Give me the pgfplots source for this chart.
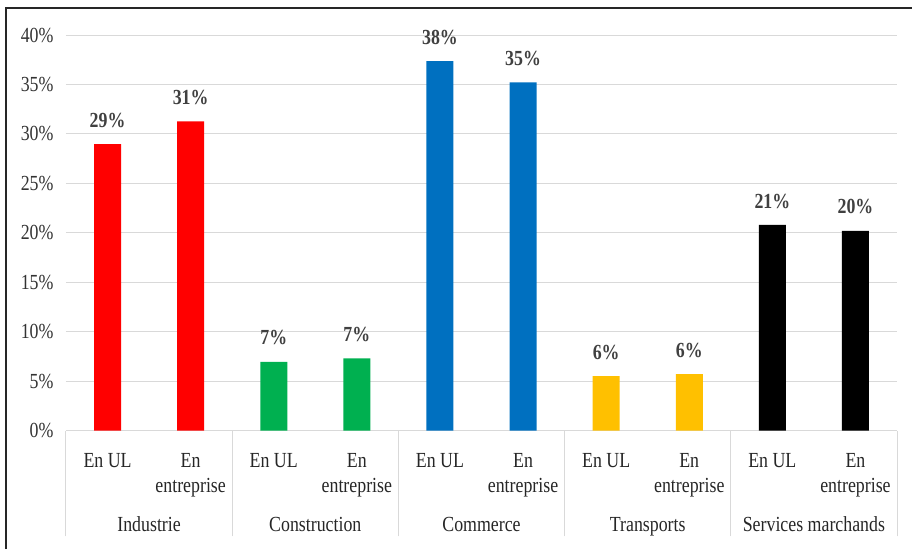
\documentclass[border=0pt]{standalone}
\usepackage{pgfplots}
\pgfplotsset{compat=1.18}
\usepackage{fontspec}
\setmainfont{Liberation Serif}[FakeStretch=0.83]
\definecolor{cred}{HTML}{FF0000}
\definecolor{cgreen}{HTML}{00B050}
\definecolor{cblue}{HTML}{0070C0}
\definecolor{cyellow}{HTML}{FFC000}
\definecolor{gridc}{HTML}{D9D9D9}
\definecolor{labc}{HTML}{404040}
\begin{document}
\begin{tikzpicture}
\path[use as bounding box] (-66pt,-118.5pt) rectangle (846pt,430.5pt);
\draw[line width=1.6pt, black!85] (-60pt,-118.5pt) -- (-60pt,422.5pt) -- (846pt,422.5pt);
\begin{axis}[
 at={(0,0)}, anchor=south west,
 scale only axis, width=831pt, height=395.5pt,
 xmin=-0.5, xmax=9.5, ymin=0, ymax=40,
 axis x line=bottom, axis y line=left,
 x axis line style={draw=gridc, line width=1pt, -},
 y axis line style={draw=none},
 ytick={0,5,...,40},
 yticklabel={\pgfmathprintnumber{\tick}\%},
 /pgf/number format/assume math mode=true,
 ymajorgrids, grid style={draw=gridc, line width=1pt},
 major tick length=0pt,
 xtick={0,...,9},
 xticklabels={En UL,{En\\entreprise},En UL,{En\\entreprise},En UL,{En\\entreprise},En UL,{En\\entreprise},En UL,{En\\entreprise}},
 xticklabel style={align=center, anchor=north, font=\fontsize{21.5}{25.5}\selectfont, text=black!85, yshift=-19pt},
 yticklabel style={font=\fontsize{21.5}{25}\selectfont, text=black!80, xshift=-9pt},
 extra x ticks={-0.5,1.5,3.5,5.5,7.5,9.5},
 extra x tick labels={},
 extra x tick style={major tick length=106pt, tick align=outside, tick style={draw=gridc, line width=1pt}},
 ybar, bar width=27pt,
 point meta=explicit symbolic,
 nodes near coords={\pgfplotspointmeta\%},
 nodes near coords style={font=\bfseries\fontsize{21.5}{25}\selectfont, text=labc, yshift=13pt},
 clip=false,
]
\addplot[fill=cred, draw=none, bar shift=0pt] coordinates {(0,28.97) [29] (1,31.26) [31]};
\addplot[fill=cgreen, draw=none, bar shift=0pt] coordinates {(2,6.95) [7] (3,7.3) [7]};
\addplot[fill=cblue, draw=none, bar shift=0pt] coordinates {(4,37.35) [38] (5,35.2) [35]};
\addplot[fill=cyellow, draw=none, bar shift=0pt] coordinates {(6,5.5) [6] (7,5.7) [6]};
\addplot[fill=black, draw=none, bar shift=0pt] coordinates {(8,20.8) [21] (9,20.2) [20]};
\node[anchor=base, font=\fontsize{21.5}{25}\selectfont, text=black!85] at (axis cs:0.5,0) [yshift=-100.5pt] {Industrie};
\node[anchor=base, font=\fontsize{21.5}{25}\selectfont, text=black!85] at (axis cs:2.5,0) [yshift=-100.5pt] {Construction};
\node[anchor=base, font=\fontsize{21.5}{25}\selectfont, text=black!85] at (axis cs:4.5,0) [yshift=-100.5pt] {Commerce};
\node[anchor=base, font=\fontsize{21.5}{25}\selectfont, text=black!85] at (axis cs:6.5,0) [yshift=-100.5pt] {Transports};
\node[anchor=base, font=\fontsize{21.5}{25}\selectfont, text=black!85] at (axis cs:8.5,0) [yshift=-100.5pt] {Services marchands};
\end{axis}
\end{tikzpicture}
\end{document}
